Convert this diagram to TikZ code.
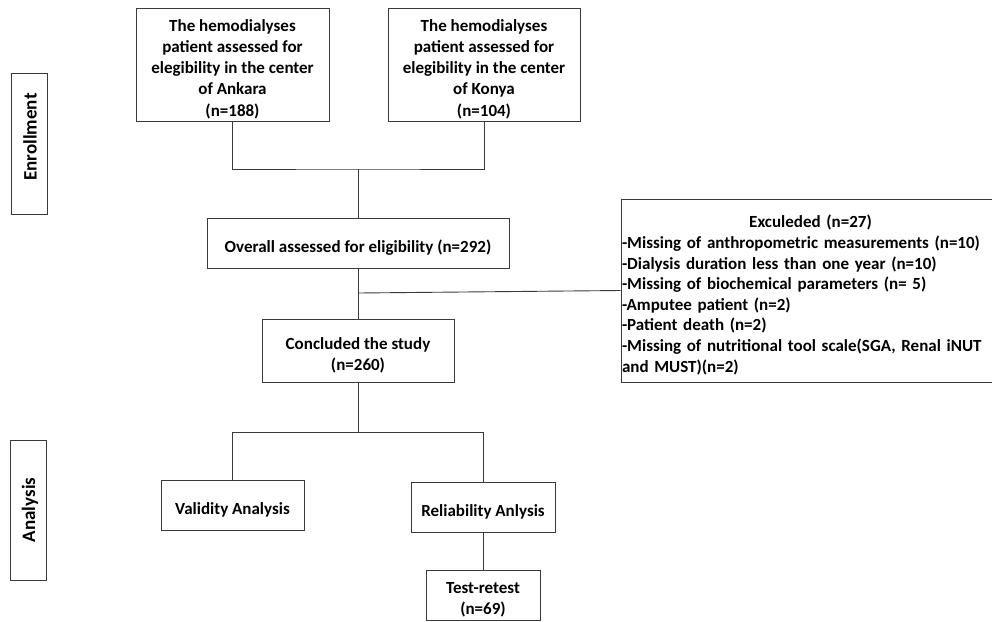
\documentclass[tikz,border=0pt]{standalone}
\usepackage{fontspec}
\setmainfont{Carlito}
\definecolor{linegray}{HTML}{3A3A3A}
\tikzset{
  box/.style={draw=linegray, line width=0.9pt, inner sep=0pt},
  txt/.style={inner sep=0pt, align=center, yshift=-4.5pt,
    font=\bfseries\fontsize{17}{21.2}\selectfont},
  sidetxt/.style={inner sep=0pt, rotate=90, font=\bfseries\fontsize{19}{22}\selectfont},
  sidebox/.style={box, minimum width=36pt, minimum height=141pt},
  conn/.style={draw=linegray, line width=0.9pt}
}
\begin{document}
\begin{tikzpicture}[x=1pt, y=-1pt]
\useasboundingbox (0,0) rectangle (992,621);
\clip (0,0) rectangle (992,621);
% side labels
\node[sidebox] (enr) at (29,144) {};
\node[sidetxt] (enrt) at (30,137) {Enrollment};
\node[sidebox, minimum height=140pt] (ana) at (28,510) {};
\node[sidetxt] (anat) at (30,510) {Analysis};
% top boxes
\node[box, minimum width=193pt, minimum height=113pt,
  label={[txt]center:{The hemodialyses\\patient assessed for\\elegibility in the center\\of Ankara\\(n=188)}}]
  (ank) at (232.5,64.5) {};
\node[box, minimum width=192pt, minimum height=113pt,
  label={[txt]center:{The hemodialyses\\patient assessed for\\elegibility in the center\\of Konya\\(n=104)}}]
  (kon) at (484,64.5) {};
\node[box, minimum width=302pt, minimum height=50pt,
  label={[txt]center:{Overall assessed for eligibility (n=292)}}]
  (ovr) at (358,243) {};
\node[box, minimum width=379pt, minimum height=183pt,
  label={[txt, text width=377pt, align=left, font=\bfseries\fontsize{17}{20.6}\selectfont]center:{%
   \makebox[\hsize][c]{Exculeded (n=27)}\\
   -Missing of anthropometric measurements (n=10)\\
   -Dialysis duration less than one year (n=10)\\
   -Missing of biochemical parameters (n= 5)\\
   -Amputee patient (n=2)\\
   -Patient death (n=2)\\
   -Missing of nutritional tool scale(SGA, Renal iNUT\\
   and MUST)(n=2)}}]
  (exc) at (810.5,290.5) {};
\node[box, minimum width=192pt, minimum height=63pt,
  label={[txt]center:{Concluded the study\\(n=260)}}]
  (con) at (358,350.5) {};
\node[box, minimum width=143pt, minimum height=50pt,
  label={[txt]center:{Validity Analysis}}]
  (val) at (232.5,505) {};
\node[box, minimum width=144pt, minimum height=50pt,
  label={[txt]center:{Reliability Anlysis}}]
  (rel) at (483,507) {};
\node[box, minimum width=114pt, minimum height=50pt,
  label={[txt]center:{Test-retest\\(n=69)}}]
  (tst) at (483,595) {};
% junctions
\coordinate (j1) at (358,169);
\coordinate (j2) at (358,293);
\coordinate (j3) at (358,432);
% connectors
\draw[conn] (ank.south) |- (j1) -| (kon.south);
\draw[conn] (j1) -- (ovr.north);
\draw[conn] (ovr.south) -- (con.north);
\draw[conn] (j2) -- (exc.west);
\draw[conn] (con.south) -- (j3);
\draw[conn] (j3) -| (val.north);
\draw[conn] (j3) -| (rel.north);
\draw[conn] (rel.south) -- (tst.north);
\end{tikzpicture}
\end{document}
